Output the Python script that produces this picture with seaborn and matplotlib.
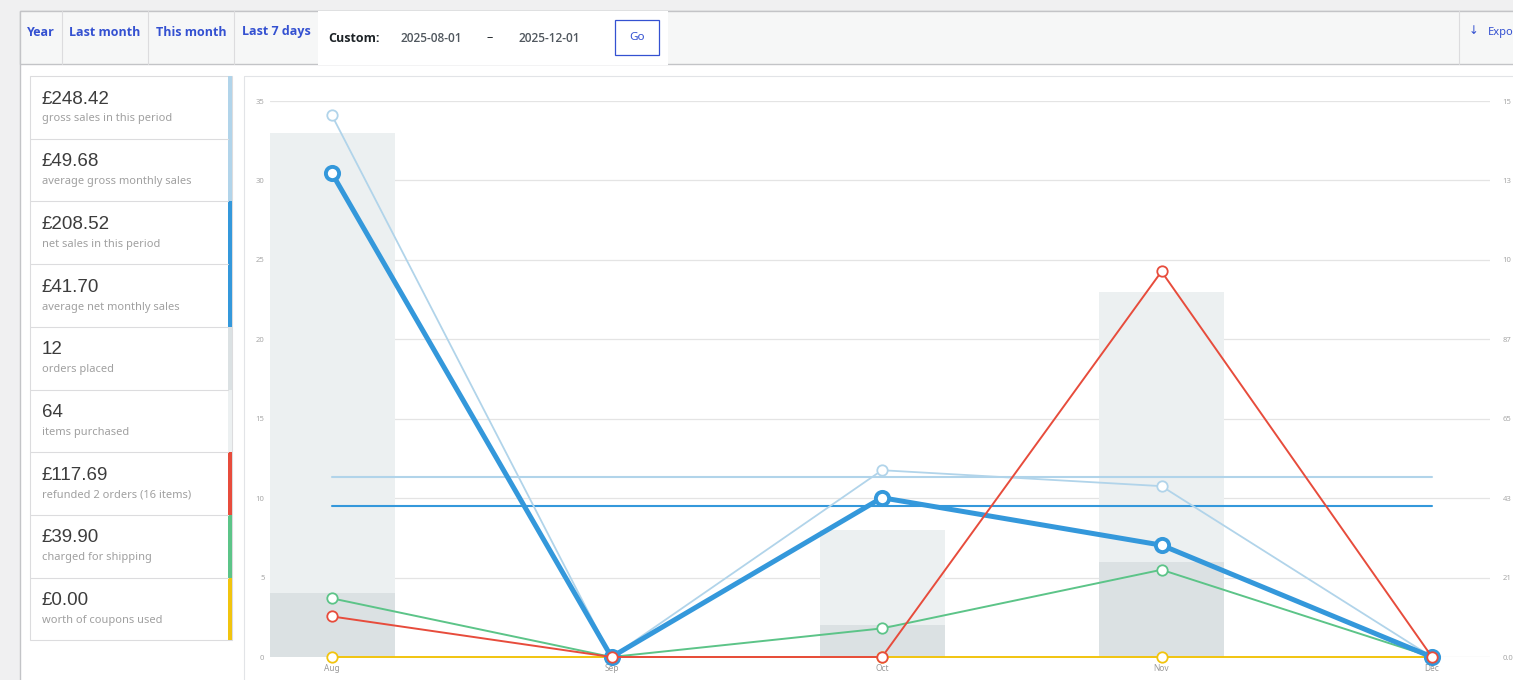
import numpy as np
import pandas as pd
import matplotlib
matplotlib.use("Agg")
import matplotlib.pyplot as plt
from matplotlib.patches import Rectangle
import seaborn as sns

sns.set_theme(style="white")
plt.rcParams['font.family'] = ['Noto Sans', 'DejaVu Sans']

# ---- data ----
months = ['Aug', 'Sep', 'Oct', 'Nov', 'Dec']
month_start = pd.to_datetime(['2025-08-01', '2025-09-01', '2025-10-01', '2025-11-01', '2025-12-01'])
items_sold = [33, 0, 8, 23, 0]
orders = [4, 0, 2, 6, 0]
gross_sales = [149.6, 0, 51.6, 47.2, 0]
net_sales = [133.6, 0, 44.0, 30.9, 0]
refunds = [11.2, 0, 0, 106.5, 0]
shipping = [16.2, 0, 7.9, 24.1, 0]
coupons = [0, 0, 0, 0, 0]
avg_gross = 49.68
avg_net = 41.70
# right-hand axis labels, as far as they show before the screen edge
right_ticks = ['0.0', '21', '43', '65', '87', '10', '13', '15']

legend_values = ['£248.42', '£49.68', '£208.52', '£41.70', '12', '64', '£117.69', '£39.90', '£0.00']
legend_texts = ['gross sales in this period', 'average gross monthly sales', 'net sales in this period',
                'average net monthly sales', 'orders placed', 'items purchased',
                'refunded 2 orders (16 items)', 'charged for shipping', 'worth of coupons used']

tabs = ['Year', 'Last month', 'This month', 'Last 7 days']
date_from = '2025-08-01'
date_to = '2025-12-01'

# colours (WooCommerce report palette)
c_gross = '#b1d4ea'
c_net = '#3498db'
c_refund = '#e74c3c'
c_ship = '#5cc488'
c_coupon = '#f1c40f'
c_items = '#ecf0f1'
c_orders = '#dbe1e3'
legend_colors = [c_gross, c_gross, c_net, c_net, c_orders, c_items, c_refund, c_ship, c_coupon]

days = (month_start - month_start[0]).days.values
df = pd.DataFrame({'day': days, 'items': items_sold, 'orders': orders, 'gross': gross_sales,
                   'net': net_sales, 'refund': refunds, 'shipping': shipping, 'coupon': coupons})

W, H = 1513, 680
fig = plt.figure(figsize=(W / 100, H / 100), dpi=100)
fig.patch.set_facecolor('#f0f0f1')

# ---- page furniture, drawn in pixel coordinates ----
bg = fig.add_axes([0, 0, 1, 1])
bg.set_xlim(0, W)
bg.set_ylim(H, 0)
bg.axis('off')

bg.add_patch(Rectangle((20, 11), W, H, facecolor='white', edgecolor='#c3c4c7', lw=1))
bg.add_patch(Rectangle((20, 11), W, 53, facecolor='#f6f7f7', edgecolor='#c3c4c7', lw=1))
for sx in [62, 148, 234]:
    bg.plot([sx, sx], [11, 64], color='#dcdcde', lw=0.8)
bg.add_patch(Rectangle((318, 11), 350, 54, facecolor='white', edgecolor='none'))
bg.plot([1459, 1459], [11, 64], color='#dcdcde', lw=0.8)

bold_font = ['Open Sans', 'DejaVu Sans']
blue = '#3451d1'
for t, tx in zip(tabs, [41, 105, 191, 276]):
    bg.text(tx, 32, t, ha='center', va='center', fontsize=9, fontweight='bold', color=blue,
            family=bold_font)
bg.text(328, 39, 'Custom:', ha='left', va='center', fontsize=9, fontweight='bold', color='#1d2327',
        family=bold_font)
bg.text(431, 38, date_from, ha='center', va='center', fontsize=8.6, fontweight='semibold',
        color='#50575e', family=bold_font)
bg.text(490, 38, '–', ha='center', va='center', fontsize=9, fontweight='bold', color='#1d2327')
bg.text(549, 38, date_to, ha='center', va='center', fontsize=8.6, fontweight='semibold',
        color='#50575e', family=bold_font)
bg.add_patch(Rectangle((615, 20), 44, 35, facecolor='white', edgecolor=blue, lw=0.9))
bg.text(637, 38, 'Go', ha='center', va='center', fontsize=8.4, color=blue)
bg.text(1469, 32, '↓', ha='left', va='center', fontsize=8.4, color=blue)
bg.text(1488, 32, 'Expo', ha='left', va='center', fontsize=8, color=blue)

# sidebar legend
top, step = 76, 62.7
bg.add_patch(Rectangle((30, top), 202, step * 9, facecolor='white', edgecolor='#dcdcde', lw=0.8))
for i, (val, txt, col) in enumerate(zip(legend_values, legend_texts, legend_colors)):
    y0 = top + i * step
    if i > 0:
        bg.plot([30, 228], [y0, y0], color='#dcdcde', lw=0.8)
    bg.add_patch(Rectangle((228, y0), 4, step, facecolor=col, edgecolor='none'))
    bg.text(42, y0 + 23, val, ha='left', va='center', fontsize=13.5, color='#3c3c3c',
            family=['Liberation Sans', 'DejaVu Sans'])
    bg.text(42, y0 + 43, txt, ha='left', va='center', fontsize=8, color='#a0a0a0')

# chart frame
bg.plot([244, 244, W], [H, 76, 76], color='#e2e4e7', lw=0.8)

# ---- chart ----
px_day = (1432 - 332) / days[-1]
x0, x1, y0p, y1p = 270, 1490, 101, 657
ax = fig.add_axes([x0 / W, (H - y1p) / H, (x1 - x0) / W, (y1p - y0p) / H])
ax.set_facecolor('none')

bar_w = 125 / px_day / np.min(np.diff(days))
sns.barplot(data=df, x='day', y='items', native_scale=True, color=c_items, saturation=1,
            width=bar_w, errorbar=None, ax=ax, zorder=2, linewidth=0)
sns.barplot(data=df, x='day', y='orders', native_scale=True, color=c_orders, saturation=1,
            width=bar_w, errorbar=None, ax=ax, zorder=3, linewidth=0)

ax.set_xlim((x0 - 332) / px_day, (x1 - 332) / px_day)
ax.set_ylim(0, 35)
ax.set_yticks(range(0, 36, 5))
ax.yaxis.grid(True, color='#e4e4e4', lw=0.9, zorder=0)
ax.set_axisbelow(True)
ax.set_xticks(days)
ax.set_xticklabels(months)
ax.set_xlabel('')
ax.set_ylabel('')
for s in ax.spines.values():
    s.set_visible(False)
ax.tick_params(axis='x', length=0, pad=5, labelsize=6, labelcolor='#9a9a9a')
ax.tick_params(axis='y', length=0, pad=4, labelsize=5.5, labelcolor='#a8a8a8')

ax2 = ax.twinx()
ymax2 = 153.6
ax2.set_ylim(0, ymax2)
ax2.set_yticks(np.linspace(0, ymax2, len(right_ticks)))
ax2.set_yticklabels(right_ticks)
ax2.tick_params(axis='y', length=0, pad=9, labelsize=5.5, labelcolor='#a8a8a8')
ax2.grid(False)
for s in ax2.spines.values():
    s.set_visible(False)

avg_df = pd.DataFrame({'day': [days[0], days[-1]], 'gross': [avg_gross] * 2, 'net': [avg_net] * 2})
sns.lineplot(data=avg_df, x='day', y='gross', color=c_gross, lw=1.5, ax=ax2, zorder=3)
sns.lineplot(data=avg_df, x='day', y='net', color=c_net, lw=1.5, ax=ax2, zorder=3)

series = [('coupon', c_coupon, 1.4, 7.5, 1.3), ('shipping', c_ship, 1.4, 7.5, 1.3),
          ('gross', c_gross, 1.3, 7.5, 1.3), ('net', c_net, 3.6, 9.5, 2.8),
          ('refund', c_refund, 1.4, 7.5, 1.3)]
for i, (col, c, lw, ms, mew) in enumerate(series):
    sns.lineplot(data=df, x='day', y=col, color=c, lw=lw, marker='o', markersize=ms,
                 markerfacecolor='white', markeredgecolor=c, markeredgewidth=mew,
                 ax=ax2, zorder=4 + i, clip_on=False)
ax2.set_xlabel('')
ax2.set_ylabel('')
ax2.set_xlim(ax.get_xlim())

fig.savefig('out.png', dpi=100)
